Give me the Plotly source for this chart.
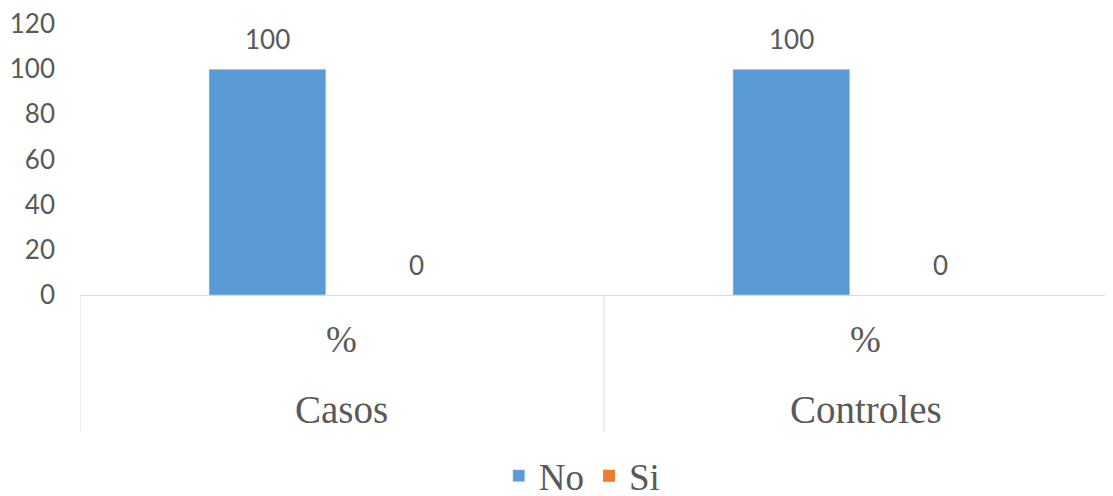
import plotly.graph_objects as go

grupos = ["Casos", "Controles"]
subcat = ["%", "%"]
no_vals = [100, 100]
si_vals = [0, 0]
y_ticks = [0, 20, 40, 60, 80, 100, 120]

gris = "#595959"
fig = go.Figure()
fig.add_trace(go.Bar(x=grupos, y=no_vals, name="No", marker_color="#5B9BD5"))
fig.add_trace(go.Bar(x=grupos, y=si_vals, name="Si", marker_color="#ED7D31", marker_line_width=0))

# etiquetas de datos
for vals, dx in [(no_vals, -74.5), (si_vals, 74.5)]:
    for g, v in zip(grupos, vals):
        fig.add_annotation(x=g, y=v, xref="x", yref="y", text=str(v), showarrow=False,
                           xshift=dx, yshift=30, yanchor="middle",
                           font=dict(family="Lato", size=26, color=gris))

# separadores de categorias
for xv in [-0.5, 0.5, 1.5]:
    fig.add_shape(type="line", xref="x", yref="paper", x0=xv, x1=xv, y0=0, y1=-0.505,
                  line=dict(color="#d9d9d9", width=1))

for g, s in zip(grupos, subcat):
    fig.add_annotation(x=g, xref="x", yref="paper", y=-0.166, text=s, showarrow=False,
                       yanchor="middle",
                       font=dict(family="Liberation Serif", size=37, color=gris))
    fig.add_annotation(x=g, xref="x", yref="paper", y=-0.424, text=g, showarrow=False,
                       yanchor="middle",
                       font=dict(family="Liberation Serif", size=39, color=gris))

fig.update_layout(
    width=1113, height=496,
    margin=dict(l=72, r=0, t=16, b=209),
    plot_bgcolor="white", paper_bgcolor="white",
    barmode="group", bargap=0.431, bargroupgap=0.216,
    showlegend=True,
    legend=dict(orientation="h", xref="container", yref="container", x=0.516, y=0.056,
                xanchor="center", yanchor="middle",
                font=dict(family="Liberation Serif", size=37, color=gris)),
)
fig.update_xaxes(range=[-0.5, 1.487], showline=True, linecolor="#d9d9d9", linewidth=1,
                 showticklabels=False, showgrid=False, ticks="", zeroline=False,
                 automargin=False)
fig.update_yaxes(range=[0, 120], tickvals=y_ticks, showgrid=False, zeroline=False,
                 showline=False, ticklabelstandoff=24, automargin=False,
                 ticklabeloverflow="allow",
                 tickfont=dict(family="Lato", size=26, color=gris))

fig.write_html("out.html")
